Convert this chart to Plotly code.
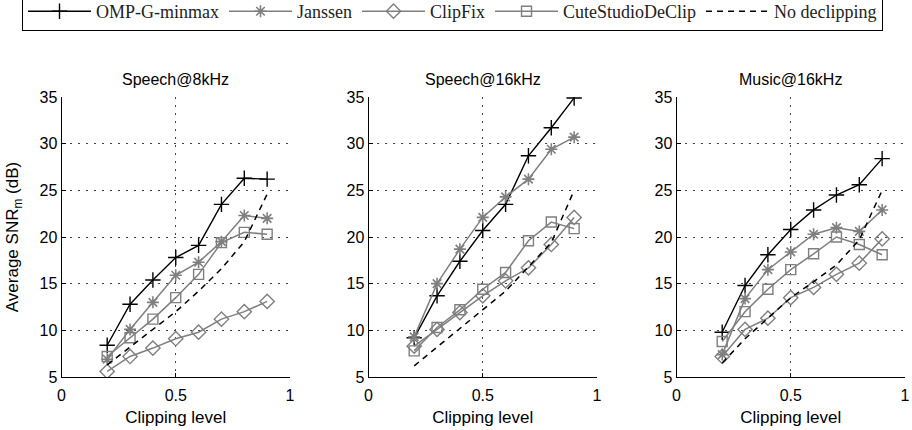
import plotly.graph_objects as go

W, H = 912, 430

clip = [0.2, 0.3, 0.4, 0.5, 0.6, 0.7, 0.8, 0.9]

# Speech@8kHz
omp8 = [8.4, 12.8, 15.4, 17.8, 19.1, 23.5, 26.3, 26.2]
jan8 = [6.9, 10.1, 13.0, 15.9, 17.3, 19.5, 22.3, 22.0]
clf8 = [5.6, 7.2, 8.1, 9.1, 9.8, 11.2, 12.0, 13.1]
cut8 = [7.2, 9.2, 11.2, 13.5, 16.0, 19.4, 20.5, 20.3]
nod8 = [6.3, 8.2, 10.0, 12.0, 14.2, 16.6, 19.5, 24.6]

# Speech@16kHz
omp16 = [9.2, 13.7, 17.4, 20.7, 23.5, 28.7, 31.7, 34.9]
jan16 = [9.3, 15.0, 18.7, 22.1, 24.3, 26.2, 29.4, 30.7]
clf16 = [8.3, 10.1, 11.9, 13.7, 15.3, 16.7, 19.2, 22.1]
cut16 = [7.8, 10.3, 12.2, 14.4, 16.2, 19.6, 21.6, 20.9]
nod16 = [6.2, 8.2, 10.3, 12.2, 14.2, 16.8, 19.4, 25.0]

# Music@16kHz
ompm = [9.8, 14.8, 18.1, 20.8, 22.9, 24.5, 25.6, 28.4]
janm = [7.4, 13.4, 16.5, 18.4, 20.3, 21.0, 20.6, 22.9]
clfm = [7.2, 10.1, 11.3, 13.5, 14.6, 16.0, 17.2, 19.8]
cutm = [8.8, 12.0, 14.4, 16.5, 18.2, 20.0, 19.2, 18.1]
nodm = [6.5, 9.1, 11.3, 13.5, 15.2, 17.0, 19.7, 25.0]

titles = ["Speech@8kHz", "Speech@16kHz", "Music@16kHz"]
method_names = ["OMP-G-minmax", "Janssen", "ClipFix", "CuteStudioDeClip", "No declipping"]
panels = [
    [omp8, jan8, clf8, cut8, nod8],
    [omp16, jan16, clf16, cut16, nod16],
    [ompm, janm, clfm, cutm, nodm],
]
x_ticks = [0, 0.5, 1]
x_tick_labels = ["0", "0.5", "1"]
y_ticks = [5, 10, 15, 20, 25, 30, 35]

GRAY = "#7f7f7f"
styles = [
    dict(line=dict(color="black", width=1.4),
         marker=dict(symbol="cross-thin-open", size=11, line=dict(color="black", width=1.4))),
    dict(line=dict(color=GRAY, width=1.5),
         marker=dict(symbol="asterisk-open", size=10, line=dict(color=GRAY, width=1.6))),
    dict(line=dict(color=GRAY, width=1.5),
         marker=dict(symbol="diamond-open", size=11, color=GRAY, line=dict(color=GRAY, width=1.4))),
    dict(line=dict(color=GRAY, width=1.5),
         marker=dict(symbol="square-open", size=10, color=GRAY, line=dict(color=GRAY, width=1.4))),
    dict(line=dict(color="black", width=1.5, dash="6px,5px"), marker=None),
]

# pixel geometry
x_dom_px = [(61.5, 290.0), (368.5, 597.0), (676.5, 905.0)]
y_top_px, y_bot_px = 97.0, 377.0

fig = go.Figure()
for p, series in enumerate(panels):
    xa = "x" if p == 0 else f"x{p+1}"
    ya = "y" if p == 0 else f"y{p+1}"
    for k, vals in enumerate(series):
        st = styles[k]
        kw = dict(x=clip, y=vals, name=method_names[k], xaxis=xa, yaxis=ya,
                  showlegend=(p == 0), legendrank=k + 1, line=st["line"])
        if st["marker"] is None:
            kw["mode"] = "lines"
        else:
            kw["mode"] = "lines+markers"
            kw["marker"] = st["marker"]
        fig.add_trace(go.Scatter(**kw))

tick_font = dict(family="Liberation Sans, Arial, sans-serif", size=16, color="black")
GRID = dict(showgrid=True, gridcolor="#444444", griddash="2px,6px", gridwidth=1)
layout = dict(
    width=W, height=H,
    margin=dict(l=0, r=0, t=0, b=0, autoexpand=False),
    paper_bgcolor="white", plot_bgcolor="white",
    font=dict(family="Liberation Sans, Arial, sans-serif", size=16, color="black"),
    legend=dict(
        orientation="h", x=22 / W, xanchor="left", y=1 + 8 / H, yanchor="top",
        bordercolor="black", borderwidth=1, bgcolor="white",
        font=dict(family="Liberation Serif, Times New Roman, serif", size=18, color="#222222"),
        itemwidth=63, traceorder="normal",
    ),
    annotations=[],
)
for p in range(3):
    xs = "xaxis" if p == 0 else f"xaxis{p+1}"
    ys = "yaxis" if p == 0 else f"yaxis{p+1}"
    x0, x1 = x_dom_px[p]
    layout[xs] = dict(
        domain=[x0 / W, x1 / W], range=[0, 1], anchor="y" if p == 0 else f"y{p+1}",
        tickvals=x_ticks, ticktext=x_tick_labels, ticks="inside", ticklen=4,
        tickcolor="black", showline=True, linecolor="black", linewidth=1,
        zeroline=False, tickfont=tick_font, ticklabelstandoff=4,
        title=dict(text="Clipping level", font=dict(size=17), standoff=7),
        **GRID,
    )
    layout[ys] = dict(
        domain=[1 - y_bot_px / H, 1 - y_top_px / H], range=[5, 35],
        anchor="x" if p == 0 else f"x{p+1}",
        tickvals=y_ticks, ticks="inside", ticklen=4, tickcolor="black",
        showline=True, linecolor="black", linewidth=1,
        zeroline=False, tickfont=tick_font,
        **GRID,
    )
    layout["annotations"].append(dict(
        text=titles[p], x=(x0 + x1) / 2 / W, y=1 - 79 / H, xref="paper", yref="paper",
        xanchor="center", yanchor="middle", showarrow=False,
        font=dict(family="Liberation Sans, Arial, sans-serif", size=16, color="black"),
    ))
layout["yaxis"]["title"] = dict(text="Average SNR<sub>m</sub> (dB)", font=dict(size=17), standoff=16)

fig.update_layout(**layout)
fig.write_html("out.html")
